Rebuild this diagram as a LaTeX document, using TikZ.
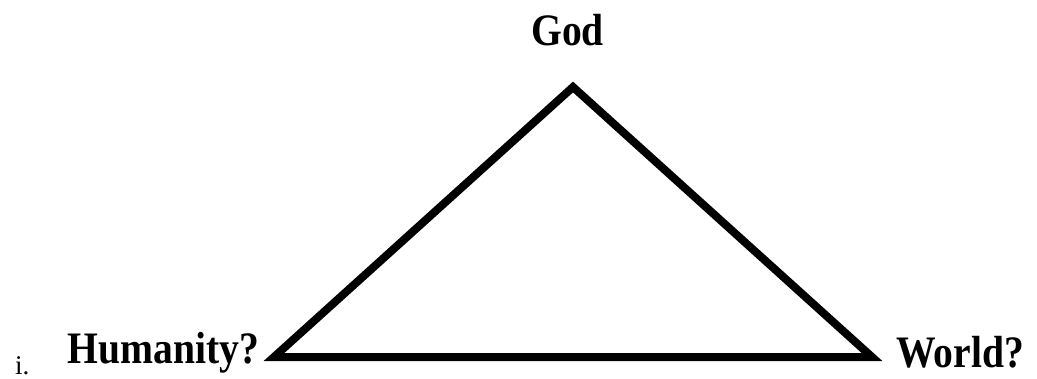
\documentclass[tikz,border=0pt]{standalone}
\usepackage{fontspec}
\setmainfont{Liberation Serif}
\tikzset{
  lbl/.style={inner sep=0pt, anchor=base, font=\bfseries\fontsize{45}{45}\selectfont},
  tri/.style={line width=8pt, line join=miter, miter limit=3}
}
\begin{document}
\begin{tikzpicture}[x=1pt,y=-1pt]
\useasboundingbox (0,0) rectangle (1037,378);
\coordinate (g) at (573,87);
\coordinate (h) at (274,357);
\coordinate (w) at (872,357);
\draw[tri] (h) -- (g) -- (w) -- cycle;
\node[lbl] (god) at (567.5,45) {\scalebox{0.88}[1]{God}};
\node[lbl] (hum) at (163.5,363) {\scalebox{0.88}[1]{Humanity?}};
\node[lbl] (wor) at (960,367) {\scalebox{0.88}[1]{World?}};
\node[inner sep=0pt, anchor=base west, font=\fontsize{27}{27}\selectfont] (num) at (15,374) {i.};
\end{tikzpicture}
\end{document}
